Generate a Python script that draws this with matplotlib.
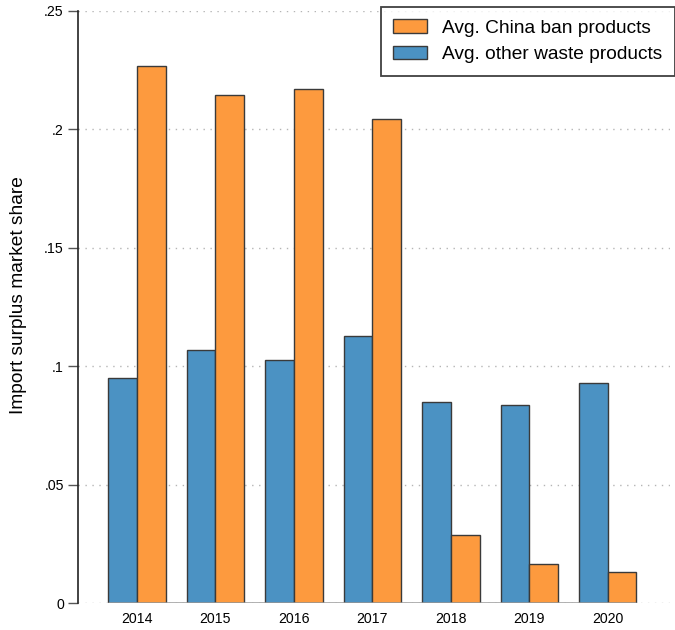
import matplotlib
matplotlib.use("Agg")
import matplotlib.pyplot as plt
import numpy as np

years = ["2014", "2015", "2016", "2017", "2018", "2019", "2020"]
other_waste = [0.0950, 0.1070, 0.1026, 0.1128, 0.0850, 0.0839, 0.0930]
china_ban = [0.2268, 0.2147, 0.2169, 0.2044, 0.0288, 0.0165, 0.0131]
yticks = [0, 0.05, 0.10, 0.15, 0.20, 0.25]
ytick_labels = ["0", ".05", ".1", ".15", ".2", ".25"]

plt.rcParams['font.family'] = ['Liberation Sans', 'DejaVu Sans']

W, H = 675, 630
fig = plt.figure(figsize=(W / 100, H / 100), dpi=100)
left, right = 77.7 / W, 670 / W
bottom, top = 1 - 603.3 / H, 1 - 11 / H
ax = fig.add_axes([left, bottom, right - left, top - bottom])

blue = "#4B92C3"
orange = "#FD9A3E"
edge = "#3a3a3a"
x = np.arange(len(years))
bw = 0.366

ax.bar(x - bw / 2, other_waste, width=bw, color=blue, edgecolor=edge,
       linewidth=1.0, label="Avg. other waste products", zorder=3)
ax.bar(x + bw / 2, china_ban, width=bw, color=orange, edgecolor=edge,
       linewidth=1.0, label="Avg. China ban products", zorder=3)

ax.set_xlim(-0.756, len(years) - 1 + 0.794)
ax.set_ylim(0, 0.25)

# baseline under the bars
ax.hlines(0, x[0] - bw, x[-1] + bw, colors="#9a9a9a", linewidth=1.8, zorder=4)

ax.set_yticks(yticks)
ax.set_yticklabels(ytick_labels)
ax.set_xticks(x)
ax.set_xticklabels(years)
ax.tick_params(axis='y', length=7, width=1, color="#555555", labelsize=10.2, pad=3)
ax.tick_params(axis='x', length=0, labelsize=10.2, pad=6)

ax.grid(axis='y', linestyle=(0, (1, 4)), color="#b5b5b5", linewidth=1.0, zorder=0)
for s in ["top", "right", "bottom"]:
    ax.spines[s].set_visible(False)
ax.spines["left"].set_color("#222222")
ax.spines["left"].set_linewidth(1.2)

ax.set_ylabel("Import surplus market share", fontsize=13.8)
ax.yaxis.set_label_coords(-(77.7 - 27) / (right - left) / W, 0.5205)

handles, labels = ax.get_legend_handles_labels()
leg = fig.legend(handles[::-1], labels[::-1], loc="upper right",
                 bbox_to_anchor=(1.0, 1 - 7 / H), bbox_transform=fig.transFigure,
                 fontsize=13.8, frameon=True, fancybox=False, shadow=False,
                 handlelength=1.77, handleheight=0.73, handletextpad=0.78,
                 labelspacing=0.45, borderpad=0.65, borderaxespad=0)
leg.get_frame().set_edgecolor("#111111")
leg.get_frame().set_linewidth(1.3)

fig.savefig("out.png", dpi=100)
